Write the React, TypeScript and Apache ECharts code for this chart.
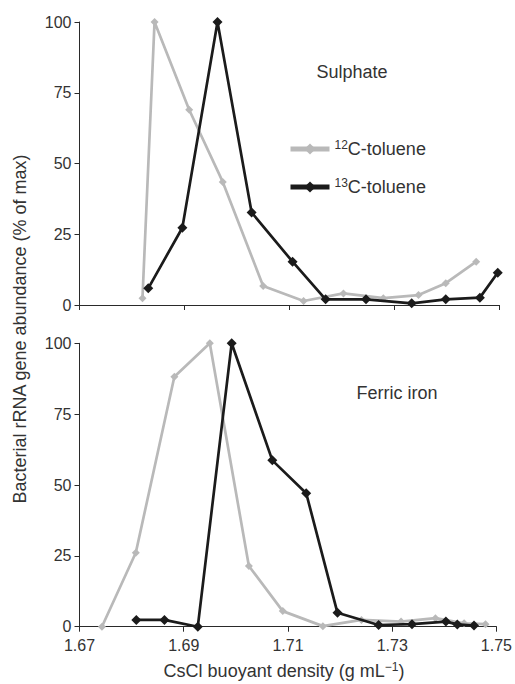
import React, { useEffect, useRef } from "react";
import * as echarts from "echarts";

// CsCl buoyant density (g/mL) and relative abundance (% of max)
const sulphate12X = [1.682, 1.6843, 1.6909, 1.6973, 1.705, 1.7127, 1.7203, 1.7279, 1.7346, 1.7398, 1.7456];
const sulphate12Y = [2.4, 100, 69, 43.5, 6.7, 1.4, 4.1, 2.4, 3.5, 7.7, 15.3];
const sulphate13X = [1.6831, 1.6896, 1.6963, 1.7028, 1.7106, 1.7169, 1.7246, 1.7333, 1.7398, 1.7463, 1.7497];
const sulphate13Y = [5.9, 27.3, 100, 32.7, 15.3, 2.0, 2.0, 0.6, 2.0, 2.6, 11.4];

const ferric12X = [1.6743, 1.6808, 1.6882, 1.695, 1.7025, 1.709, 1.7167, 1.7241, 1.7317, 1.7383, 1.7438, 1.7479];
const ferric12Y = [0, 26.1, 88.2, 100, 21.4, 5.5, 0.2, 2.4, 1.8, 3.0, 1.2, 0.9];
const ferric13X = [1.6809, 1.6863, 1.6927, 1.6992, 1.707, 1.7135, 1.7195, 1.7274, 1.7338, 1.7403, 1.7425, 1.7457];
const ferric13Y = [2.4, 2.4, 0, 100, 58.7, 47.1, 4.9, 0.6, 0.9, 1.8, 0.8, 0.4];

const xTicks = { min: 1.67, max: 1.75, interval: 0.02 };
const yTicks = { min: 0, max: 100, interval: 25 };
const panelLabels = ["Sulphate", "Ferric iron"];
const seriesNames = ["12C-toluene", "13C-toluene"];

const GRAY = "#b9b9b9";
const BLACK = "#1b1b1b";
const AXIS = "#2a2a2a";
const TEXT = "#333333";
const FONT = "Liberation Sans, Arial, sans-serif";

const pairs = (xs: number[], ys: number[]) => xs.map((x, i) => [x, ys[i]]);

export default function App() {
  const ref = useRef<HTMLDivElement>(null);

  useEffect(() => {
    if (!ref.current) return;
    const chart = echarts.init(ref.current, undefined, { renderer: "svg" });

    const xAxisBase = (gridIndex: number, showLabels: boolean) => ({
      type: "value" as const,
      gridIndex,
      min: xTicks.min,
      max: xTicks.max,
      interval: xTicks.interval,
      splitLine: { show: false },
      axisLine: { lineStyle: { color: AXIS, width: 1 } },
      axisTick: { show: true, length: 5, lineStyle: { color: AXIS } },
      axisLabel: {
        show: showLabels,
        margin: 11,
        fontSize: 16,
        color: TEXT,
        fontFamily: FONT,
        formatter: (v: number) => v.toFixed(2),
      },
    });

    const yAxisBase = (gridIndex: number) => ({
      type: "value" as const,
      gridIndex,
      min: yTicks.min,
      max: yTicks.max,
      interval: yTicks.interval,
      splitLine: { show: false },
      axisLine: { show: true, lineStyle: { color: AXIS, width: 1 } },
      axisTick: { show: true, length: 5, lineStyle: { color: AXIS } },
      axisLabel: { margin: 8, fontSize: 16, color: TEXT, fontFamily: FONT },
    });

    const lineSeries = (name: string, data: number[][], idx: number, color: string, size: number) => ({
      type: "line" as const,
      name,
      xAxisIndex: idx,
      yAxisIndex: idx,
      data,
      symbol: "diamond",
      symbolSize: size,
      lineStyle: { color, width: 2.7 },
      itemStyle: { color, borderWidth: 0 },
      z: color === BLACK ? 3 : 2,
    });

    chart.setOption({
      animation: false,
      backgroundColor: "#ffffff",
      grid: [
        { left: 79.5, top: 22, right: 15.7, height: 283, containLabel: false },
        { left: 79.5, top: 343.3, right: 15.7, height: 283.4, containLabel: false },
      ],
      xAxis: [xAxisBase(0, false), xAxisBase(1, true)],
      yAxis: [yAxisBase(0), yAxisBase(1)],
      legend: {
        orient: "vertical",
        left: 283,
        top: 134,
        itemWidth: 39,
        itemHeight: 14,
        itemGap: 19,
        data: seriesNames,
        lineStyle: { width: 5 },
        textStyle: {
          fontSize: 18,
          color: TEXT,
          fontFamily: FONT,
          rich: {
            sup: { fontSize: 12, color: TEXT, fontFamily: FONT, verticalAlign: "top", padding: [0, 0, 8, 0] },
            main: { fontSize: 18, color: TEXT, fontFamily: FONT },
          },
        },
        formatter: (name: string) => {
          const m = name.match(/^(\d+)(.*)$/);
          return m ? `{sup|${m[1]}}{main|${m[2]}}` : name;
        },
      },
      graphic: [
        {
          type: "text",
          x: 352,
          y: 72,
          style: { text: panelLabels[0], fontSize: 18, fill: TEXT, fontFamily: FONT, align: "center", verticalAlign: "middle" },
        },
        {
          type: "text",
          x: 397,
          y: 393,
          style: { text: panelLabels[1], fontSize: 18, fill: TEXT, fontFamily: FONT, align: "center", verticalAlign: "middle" },
        },
        {
          type: "text",
          x: 20,
          y: 329,
          rotation: Math.PI / 2,
          style: {
            text: "Bacterial rRNA gene abundance (% of max)",
            fontSize: 18,
            fill: TEXT,
            fontFamily: FONT,
            align: "center",
            verticalAlign: "middle",
          },
        },
        {
          type: "text",
          x: 284,
          y: 671,
          style: {
            text: "{m|CsCl buoyant density (g mL}{s|\u22121}{m|)}",
            align: "center",
            verticalAlign: "middle",
            fill: TEXT,
            fontFamily: FONT,
            rich: {
              m: { fontSize: 18, fill: TEXT, fontFamily: FONT },
              s: { fontSize: 12, fill: TEXT, fontFamily: FONT, verticalAlign: "top", padding: [0, 0, 8, 0] },
            },
          },
        },
      ],
      series: [
        lineSeries(seriesNames[0], pairs(sulphate12X, sulphate12Y), 0, GRAY, 8),
        lineSeries(seriesNames[1], pairs(sulphate13X, sulphate13Y), 0, BLACK, 10),
        lineSeries(seriesNames[0], pairs(ferric12X, ferric12Y), 1, GRAY, 8),
        lineSeries(seriesNames[1], pairs(ferric13X, ferric13Y), 1, BLACK, 10),
      ],
    });

    return () => chart.dispose();
  }, []);

  return (
    <div
      ref={ref}
      style={{ position: "absolute", left: 0, top: 0, width: 515, height: 684 }}
    />
  );
}
